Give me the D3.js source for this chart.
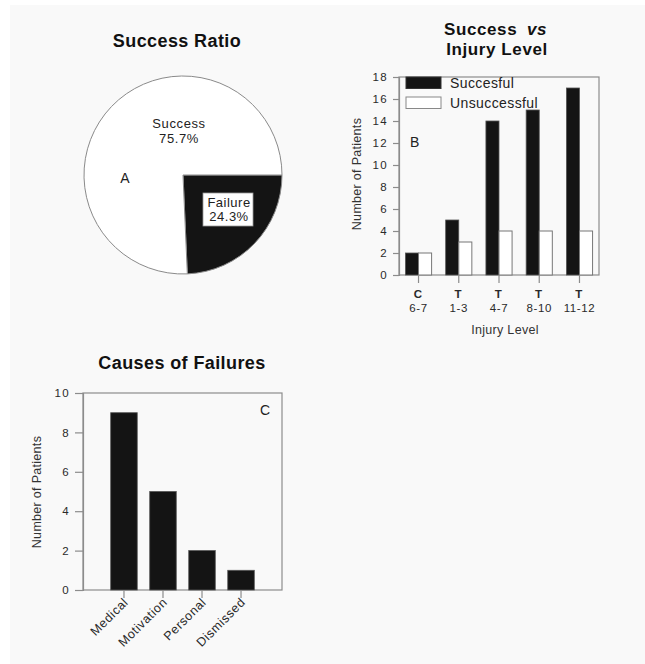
<!DOCTYPE html>
<html>
<head>
<meta charset="utf-8">
<script src="https://cdn.jsdelivr.net/npm/d3@7"></script>
<style>
  html, body { margin: 0; padding: 0; background: #ffffff; }
  svg { display: block; }
  text { font-family: "Liberation Sans", Arial, Helvetica, sans-serif; fill: #222; }
  .title { font-weight: bold; font-size: 18px; fill: #111; letter-spacing: 0.4px; }
  .title-b { font-size: 17px; letter-spacing: 0.6px; }
  .tick-label { font-size: 11.5px; fill: #2a2a2a; letter-spacing: 1.3px; }
  .axis-label { font-size: 12.5px; fill: #333; letter-spacing: 0.3px; }
</style>
</head>
<body>
<script>
// Panel A: overall outcome
const outcomeLabels = ["Failure", "Success"];
const outcomePercent = [24.3, 75.7];

// Panel B: outcome by injury level
const levelGroups = ["C", "T", "T", "T", "T"];
const levelRanges = ["6-7", "1-3", "4-7", "8-10", "11-12"];
const successfulCounts = [2, 5, 14, 15, 17];
const unsuccessfulCounts = [2, 3, 4, 4, 4];
const seriesNames = ["Succesful", "Unsuccessful"];
const levelTicks = [0, 2, 4, 6, 8, 10, 12, 14, 16, 18];

// Panel C: causes of failure
const causes = ["Medical", "Motivation", "Personal", "Dismissed"];
const causeCounts = [9, 5, 2, 1];
const causeTicks = [0, 2, 4, 6, 8, 10];

const W = 645, H = 664;
const svg = d3.select("body").append("svg").attr("width", W).attr("height", H);

// faint paper tone
svg.append("rect").attr("x", 10).attr("y", 5).attr("width", W - 10).attr("height", H - 5)
  .attr("fill", "#f9f9f9");

const dark = "#141414";
const frame = "#8c8c8c";

// ---------- Panel A: pie ----------
{
  const cx = 183, cy = 175, r = 99;
  const g = svg.append("g").attr("transform", `translate(${cx},${cy})`);
  const pie = d3.pie().sort(null).startAngle(Math.PI / 2).endAngle(Math.PI / 2 + 2 * Math.PI);
  const arcs = pie(outcomePercent);
  const arc = d3.arc().innerRadius(0).outerRadius(r);
  g.selectAll("path").data(arcs).join("path")
    .attr("d", arc)
    .attr("fill", (d, i) => outcomeLabels[i] === "Failure" ? dark : "#ffffff")
    .attr("stroke", "#8a8a8a").attr("stroke-width", 1);

  svg.append("text").attr("class", "title").attr("x", 177).attr("y", 47)
    .attr("text-anchor", "middle").text("Success Ratio");

  const succ = svg.append("text").attr("text-anchor", "middle")
    .style("font-size", "13px").style("letter-spacing", "0.6px").attr("fill", "#222");
  succ.append("tspan").attr("x", 179).attr("y", 128).text(outcomeLabels[1]);
  succ.append("tspan").attr("x", 179).attr("y", 143).text(outcomePercent[1].toFixed(1) + "%");

  svg.append("text").attr("x", 125).attr("y", 183).attr("text-anchor", "middle")
    .style("font-size", "14px").text("A");

  svg.append("rect").attr("x", 203).attr("y", 193).attr("width", 50).attr("height", 33)
    .attr("fill", "#ffffff").attr("stroke", "#999").attr("stroke-width", 0.8);
  const fail = svg.append("text").attr("text-anchor", "middle")
    .style("font-size", "13px").style("letter-spacing", "0.5px");
  fail.append("tspan").attr("x", 229).attr("y", 207).text(outcomeLabels[0]);
  fail.append("tspan").attr("x", 229).attr("y", 221).text(outcomePercent[0].toFixed(1) + "%");
}

// ---------- Panel B: grouped bars ----------
{
  const left = 399, right = 599, top = 77, bottom = 275;
  const x = d3.scaleBand().domain(d3.range(levelRanges.length))
    .range([left, right]).paddingInner(0.35).paddingOuter(0.16);
  const xs = d3.scaleBand().domain([0, 1]).range([0, x.bandwidth()]);
  const y = d3.scaleLinear().domain([0, 18]).range([bottom, top]);

  // two-line title, "vs" set in italics
  svg.append("text").attr("class", "title title-b").attr("x", 444).attr("y", 35).text("Success");
  svg.append("text").attr("class", "title title-b").attr("x", 527).attr("y", 35)
    .style("font-style", "italic").text("vs");
  svg.append("text").attr("class", "title title-b").attr("x", 497).attr("y", 55)
    .attr("text-anchor", "middle").text("Injury Level");

  // frame
  svg.append("rect").attr("x", left).attr("y", top).attr("width", right - left).attr("height", bottom - top)
    .attr("fill", "none").attr("stroke", frame).attr("stroke-width", 1.2);

  // y axis
  const yAxis = d3.axisLeft(y).tickValues(levelTicks).tickSize(6).tickPadding(5);
  const ya = svg.append("g").attr("transform", `translate(${left},0)`).call(yAxis);
  ya.select(".domain").attr("stroke", frame).attr("stroke-width", 1.2);
  ya.selectAll(".tick line").attr("stroke", frame).attr("stroke-width", 1.2);
  ya.selectAll(".tick text").attr("class", "tick-label").attr("fill", "#2a2a2a");

  const groups = svg.append("g").selectAll("g").data(levelRanges).join("g")
    .attr("transform", (d, i) => `translate(${x(i)},0)`);
  groups.append("rect")
    .attr("x", xs(0)).attr("width", xs.bandwidth())
    .attr("y", (d, i) => y(successfulCounts[i]))
    .attr("height", (d, i) => y(0) - y(successfulCounts[i]))
    .attr("fill", dark).attr("stroke", "#555").attr("stroke-width", 0.8);
  groups.append("rect")
    .attr("x", xs(1)).attr("width", xs.bandwidth())
    .attr("y", (d, i) => y(unsuccessfulCounts[i]))
    .attr("height", (d, i) => y(0) - y(unsuccessfulCounts[i]))
    .attr("fill", "#ffffff").attr("stroke", "#777").attr("stroke-width", 1);

  // x ticks and two-line labels
  const xt = svg.append("g").selectAll("g").data(levelRanges).join("g")
    .attr("transform", (d, i) => `translate(${x(i) + x.bandwidth() / 2},${bottom})`);
  xt.append("line").attr("y2", 8).attr("stroke", frame).attr("stroke-width", 1.2);
  xt.append("text").attr("class", "tick-label").attr("text-anchor", "middle").attr("y", 23)
    .style("font-weight", "bold").text((d, i) => levelGroups[i]);
  xt.append("text").attr("class", "tick-label").attr("text-anchor", "middle").attr("y", 37)
    .style("letter-spacing", "0.6px").text(d => d);

  svg.append("text").attr("class", "axis-label").attr("text-anchor", "middle")
    .attr("x", 505).attr("y", 334).text("Injury Level");
  svg.append("text").attr("class", "axis-label").attr("text-anchor", "middle")
    .attr("transform", "translate(361,174) rotate(-90)").text("Number of Patients");

  svg.append("text").attr("x", 410).attr("y", 147).style("font-size", "14px").text("B");

  // legend
  const lg = svg.append("g");
  const legendFill = [dark, "#ffffff"];
  const legendY = [77, 97];
  seriesNames.forEach((name, i) => {
    lg.append("rect").attr("x", 406).attr("y", legendY[i]).attr("width", 35).attr("height", 11.5)
      .attr("fill", legendFill[i]).attr("stroke", i ? "#888" : "#333").attr("stroke-width", 1);
    lg.append("text").attr("x", 450).attr("y", legendY[i] + 11)
      .style("font-size", "14px").style("letter-spacing", "0.4px").attr("fill", "#333").text(name);
  });
}

// ---------- Panel C: bars ----------
{
  const left = 83, right = 282, top = 393, bottom = 590;
  const x = d3.scaleBand().domain(causes).range([left, right]).paddingInner(0.32).paddingOuter(0.71);
  const y = d3.scaleLinear().domain([0, 10]).range([bottom, top]);

  svg.append("text").attr("class", "title").attr("x", 182).attr("y", 369)
    .attr("text-anchor", "middle").text("Causes of Failures");

  svg.append("rect").attr("x", left).attr("y", top).attr("width", right - left).attr("height", bottom - top)
    .attr("fill", "none").attr("stroke", frame).attr("stroke-width", 1.2);

  const yAxis = d3.axisLeft(y).tickValues(causeTicks).tickSize(8).tickPadding(5);
  const ya = svg.append("g").attr("transform", `translate(${left},0)`).call(yAxis);
  ya.select(".domain").attr("stroke", frame).attr("stroke-width", 1.2);
  ya.selectAll(".tick line").attr("stroke", frame).attr("stroke-width", 1.2);
  ya.selectAll(".tick text").attr("class", "tick-label").attr("fill", "#2a2a2a");

  svg.append("g").selectAll("rect").data(causes).join("rect")
    .attr("x", d => x(d)).attr("width", x.bandwidth())
    .attr("y", (d, i) => y(causeCounts[i]))
    .attr("height", (d, i) => y(0) - y(causeCounts[i]))
    .attr("fill", dark).attr("stroke", "#555").attr("stroke-width", 0.8);

  const xt = svg.append("g").selectAll("g").data(causes).join("g")
    .attr("transform", d => `translate(${x(d) + x.bandwidth() / 2},${bottom})`);
  xt.append("line").attr("y2", 8).attr("stroke", frame).attr("stroke-width", 1.2);
  xt.append("text").attr("class", "tick-label").attr("text-anchor", "end")
    .attr("transform", "translate(5,13) rotate(-45)")
    .style("font-size", "12.5px").style("letter-spacing", "0.6px").text(d => d);

  svg.append("text").attr("class", "axis-label").attr("text-anchor", "middle")
    .attr("transform", "translate(41,492) rotate(-90)").text("Number of Patients");

  svg.append("text").attr("x", 265).attr("y", 415).attr("text-anchor", "middle")
    .style("font-size", "14px").text("C");
}
</script>
</body>
</html>
